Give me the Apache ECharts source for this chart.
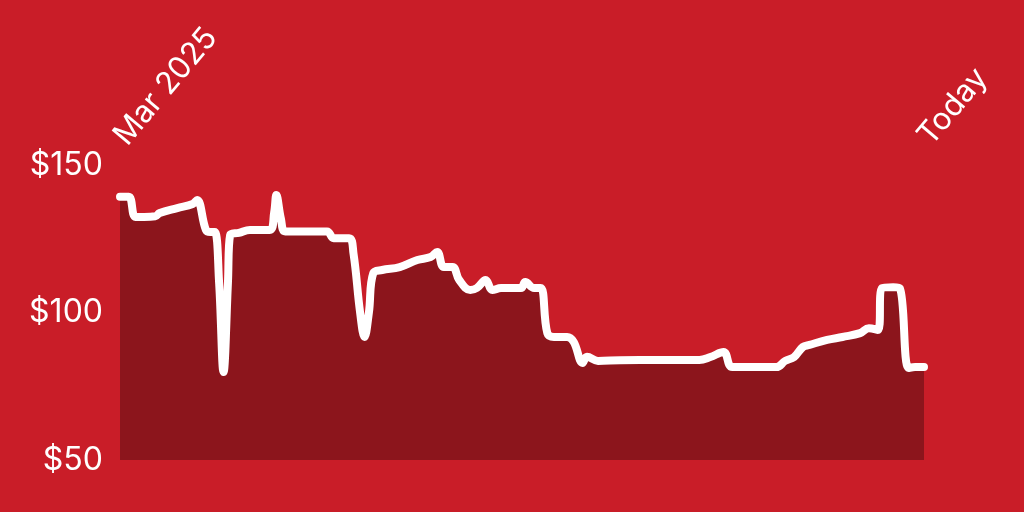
<!DOCTYPE html>
<html>
<head>
<meta charset="utf-8">
<style>
html,body{margin:0;padding:0;background:#C91D28;}
#chart{width:1024px;height:512px;}
</style>
<script src="https://cdn.jsdelivr.net/npm/echarts@6/dist/echarts.min.js"></script>
</head>
<body>
<div id="chart"></div>
<script>
// Day offsets from the start (Mar 2025 = day 0, Today = day 365)
const days = [0,4,7,11,16,18,26,33,35,39,41,43,45,47,49,50,54,59,68,70,71,73,75,82,94,97,104,106,109,111,113,115,119,127,135,141,144,147,151,154,159,162,166,169,173,182,184,188,191,194,197,203,206,210,212,217,227,245,263,268,274,278,298,302,306,310,313,321,328,336,340,344,346,351,354,358,361,365];
const prices = [139.2,139.2,132.4,132.4,132.6,133.7,135.4,136.8,138.1,128,127.3,127.3,110,79.8,110,126.3,127,128,128,134,139.8,132,127.5,127.5,127.5,125.2,125.2,120,100,91.7,100,113.4,114.4,115.4,117.8,118.8,120.5,115.4,115.4,111,107.6,108.3,111,107.6,108.3,108.3,110.3,108.3,108.3,93,91.7,91.7,90,82.9,85,83.6,83.8,83.9,83.9,84.9,86.6,81.5,81.5,83.6,84.9,88.3,89,90.7,91.7,93,94.7,94.1,108.3,108.6,108.3,81.2,81.5,81.5];
const xLabels = {0: 'Mar 2025', 365: 'Today'};
const yTicks = [50, 100, 150];

const chart = echarts.init(document.getElementById('chart'));
chart.setOption({
  backgroundColor: '#C91D28',
  animation: false,
  grid: {left: 120, right: 100, top: 165, bottom: 52},
  xAxis: {
    type: 'value',
    position: 'top',
    min: 0,
    max: 365,
    interval: 365,
    axisLine: {show: false},
    axisTick: {show: false},
    splitLine: {show: false},
    axisLabel: {
      rotate: -50,
      margin: 24,
      color: '#ffffff',
      fontFamily: 'Inter',
      fontSize: 31,
      showMinLabel: true,
      showMaxLabel: true,
      formatter: v => xLabels[v] || ''
    }
  },
  yAxis: {
    type: 'value',
    min: yTicks[0],
    max: yTicks[yTicks.length - 1],
    interval: 50,
    axisLine: {show: false},
    axisTick: {show: false},
    splitLine: {show: false},
    axisLabel: {
      margin: 17,
      color: '#ffffff',
      fontFamily: 'Inter',
      fontSize: 32,
      formatter: v => '$' + v
    }
  },
  series: [{
    type: 'line',
    data: days.map((d, i) => [d, prices[i]]),
    smooth: 0.4,
    showSymbol: false,
    lineStyle: {color: '#ffffff', width: 8, join: 'round', cap: 'round'},
    areaStyle: {color: '#8C151C', opacity: 1, origin: 'start'}
  }]
});
</script>
</body>
</html>
